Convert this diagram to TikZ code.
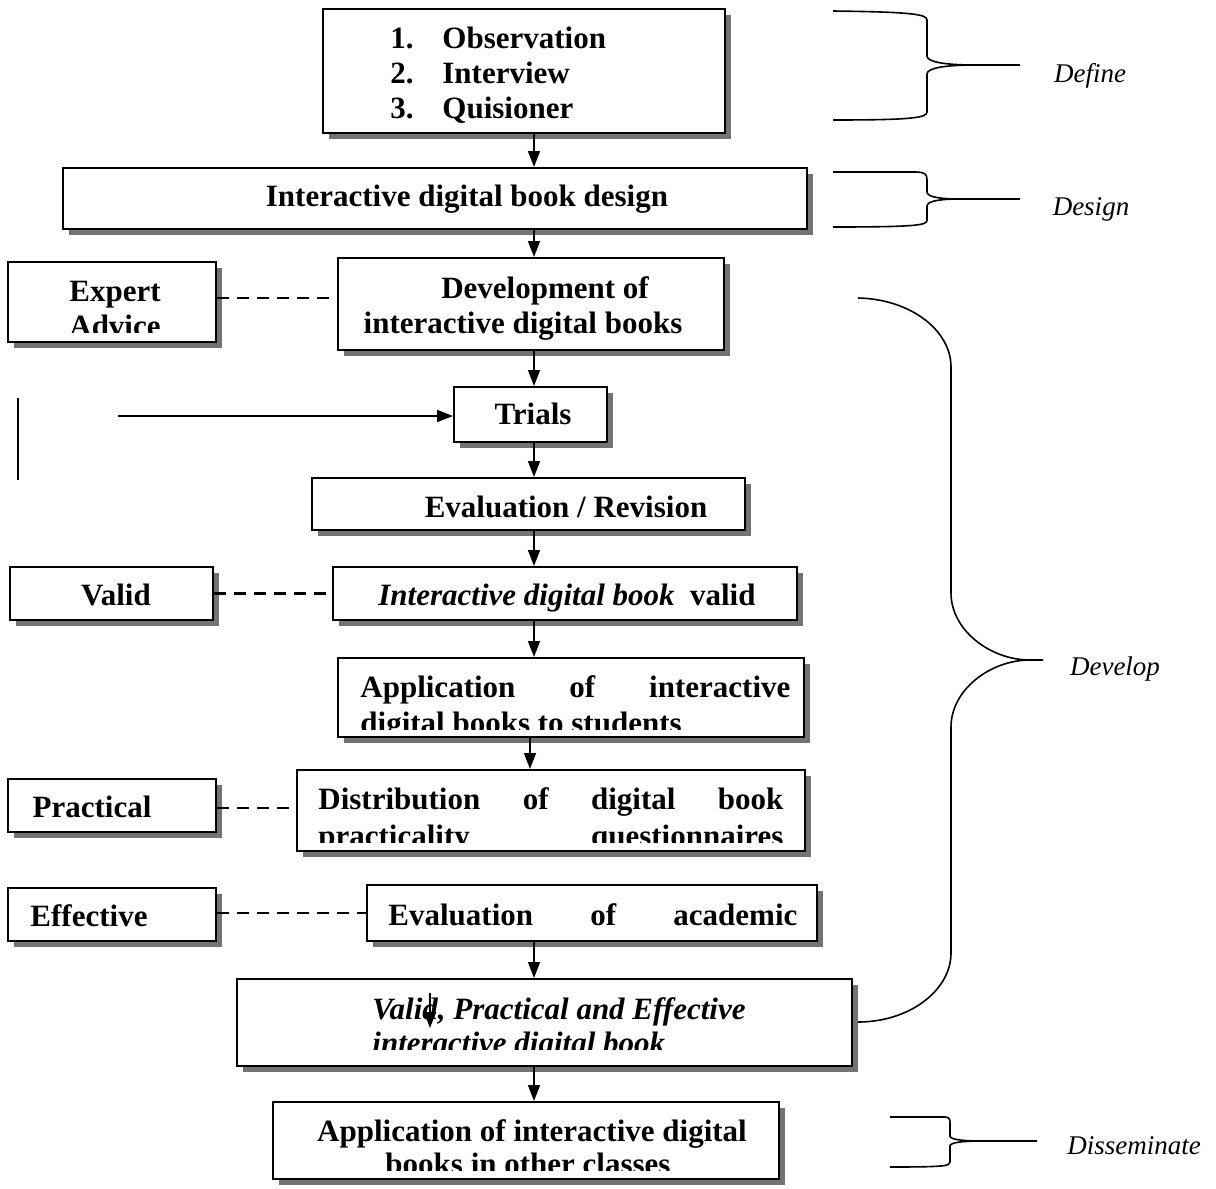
\documentclass[tikz,border=0pt]{standalone}
\usepackage{fontspec}
\setmainfont{Liberation Serif}
\usetikzlibrary{arrows.meta,fit,shadows}

\begin{document}
\begin{tikzpicture}[x=0.5pt,y=-0.5pt,
    box/.style={draw,line width=1pt,fill=white,inner sep=0pt,
        drop shadow={shadow xshift=2.8pt,shadow yshift=-2.8pt,
            fill=black!55,opacity=1}},
    box text/.style={font=\fontsize{15.5}{18.5}\selectfont\bfseries,
        inner sep=0pt},
    phase label/.style={font=\fontsize{13.5}{15}\selectfont\itshape,
        inner sep=0pt},
    flow/.style={line width=0.8pt,-{Triangle[length=8pt,width=6pt]}},
    advice link/.style={line width=1.3pt,dash pattern=on 6pt off 4pt},
    phase brace/.style={line width=0.8pt}
]
    \useasboundingbox (0,0) rectangle (1216,1189);

    % boxes of the main column
    \node[box,fit={(323,9) (725,133)}] (methods) {};
    \node[box,fit={(63,168) (807,229)}] (design) {};
    \node[box,fit={(338,258) (724,350)}] (develop) {};
    \node[box,fit={(454,387) (607,442)}] (trials) {};
    \node[box,fit={(312,478) (745,530)}] (evalrev) {};
    \node[box,fit={(333,567) (797,620)}] (bookvalid) {};
    \node[box,fit={(338,658) (804,737)}] (apply) {};
    \node[box,fit={(297,770) (805,851)}] (distrib) {};
    \node[box,fit={(367,885) (817,941)}] (evalacad) {};
    \node[box,fit={(237,979) (852,1066)}] (final) {};
    \node[box,fit={(273,1102) (779,1179)}] (dissem) {};

    % boxes on the left
    \node[box,fit={(8,262) (216,342)}] (expert) {};
    \node[box,fit={(10,567) (213,620)}] (valid) {};
    \node[box,fit={(8,779) (216,832)}] (practical) {};
    \node[box,fit={(8,888) (216,941)}] (effective) {};

    % texts
    \foreach \i/\word/\y in {1/Observation/48,2/Interview/83,3/Quisioner/118} {
        \node[box text,anchor=base west] (num\i) at (390,\y) {\i.};
        \node[box text,anchor=base west] (item\i) at (442,\y) {\word};
    }
    \node[box text,anchor=base] (design-text) at (467,206)
        {Interactive digital book design};
    \node[box text,anchor=base] (develop-1) at (545,298) {Development of};
    \node[box text,anchor=base] (develop-2) at (523,333)
        {interactive digital books};
    \node[box text,anchor=base] (trials-text) at (533,424) {Trials};
    \node[box text,anchor=base] (evalrev-text) at (566,517)
        {Evaluation / Revision};
    \node[box text,anchor=base] (bookvalid-text) at (567,605)
        {\textit{Interactive digital book}\ \ valid};
    \node[box text,anchor=base west] (evalacad-text) at (388,925)
        {\makebox[204.5pt][s]{Evaluation of academic}};
    \node[box text,anchor=base] (valid-text) at (116,605) {Valid};
    \node[box text,anchor=base] (practical-text) at (92,817) {Practical};
    \node[box text,anchor=base] (effective-text) at (89,926) {Effective};

    % texts cut off at the box bottom
    \begin{scope}
        \clip (8,262) rectangle (216,332);
        \node[box text,anchor=base] (expert-1) at (115,301) {Expert};
        \node[box text,anchor=base] (expert-2) at (115,336) {Advice};
    \end{scope}
    \begin{scope}
        \clip (338,658) rectangle (804,729);
        \node[box text,anchor=base west] (apply-1) at (360,697)
            {\makebox[215pt][s]{Application of interactive}};
        \node[box text,anchor=base west] (apply-2) at (360,733)
            {digital books to students};
    \end{scope}
    \begin{scope}
        \clip (297,770) rectangle (805,842);
        \node[box text,anchor=base west] (distrib-1) at (318,809)
            {\makebox[232.5pt][s]{Distribution of digital book}};
        \node[box text,anchor=base west] (distrib-2) at (318,846)
            {\makebox[232.5pt][s]{practicality questionnaires}};
    \end{scope}
    \begin{scope}
        \clip (237,979) rectangle (852,1049);
        \node[box text,anchor=base west] (final-1) at (372,1019)
            {\textit{Valid, Practical and Effective}};
        \node[box text,anchor=base west] (final-2) at (372,1053)
            {\textit{interactive digital book}};
    \end{scope}
    \begin{scope}
        \clip (273,1102) rectangle (779,1170);
        \node[box text,anchor=base] (dissem-1) at (532,1141)
            {Application of interactive digital};
        \node[box text,anchor=base] (dissem-2) at (528,1174)
            {books in other classes};
    \end{scope}

    % arrows
    \coordinate (col) at (534,0);
    \coordinate (col-b) at (530,0);
    \draw[flow] (methods.south -| col) -- (design.north -| col);
    \draw[flow] (design.south -| col) -- (develop.north -| col);
    \draw[flow] (develop.south -| col) -- (trials.north -| col);
    \draw[flow] (trials.south -| col) -- (evalrev.north -| col);
    \draw[flow] (evalrev.south -| col) -- (bookvalid.north -| col);
    \draw[flow] (bookvalid.south -| col) -- (apply.north -| col);
    \draw[flow] (apply.south -| col-b) -- (distrib.north -| col-b);
    \draw[flow] (evalacad.south -| col) -- (final.north -| col);
    \draw[flow] (final.south -| col) -- (dissem.north -| col);
    \coordinate (stray-top) at (430,993);
    \coordinate (stray-tip) at (430,1028);
    \draw[flow] (stray-top) -- (stray-tip);

    \coordinate (trial-src) at (118,416);
    \draw[flow] (trial-src) -- (trial-src -| trials.west);
    \coordinate (bar-top) at (18,398);
    \coordinate (bar-bot) at (18,480);
    \draw[line width=0.8pt] (bar-top) -- (bar-bot);

    % dashed links
    \draw[advice link] (expert.east |- 0,298) -- (develop.west |- 0,298);
    \draw[advice link] (valid.east) -- (valid.east -| bookvalid.west);
    \draw[advice link] (practical.east |- 0,808) -- (distrib.west |- 0,808);
    \draw[advice link] (effective.east |- 0,913) -- (evalacad.west |- 0,913);

    % phase braces
    \draw[phase brace] (833,11) .. controls (910,12) and (927,14) .. (927,20)
        -- (927,56) .. controls (927,62) and (945,65) .. (975,65) -- (1020,65)
        (975,65) .. controls (945,65) and (927,68) .. (927,74)
        -- (927,112) .. controls (927,118) and (910,120) .. (833,120);
    \node[phase label] (define) at (1090,76) {Define};

    \draw[phase brace] (833,172) -- (915,172) .. controls (925,172) and (927,174) .. (927,180)
        -- (927,192) .. controls (927,197) and (940,199) .. (960,199) -- (1020,199)
        (960,199) .. controls (940,199) and (927,201) .. (927,206)
        -- (927,220) .. controls (927,225) and (920,227) .. (833,227);
    \node[phase label] (design-phase) at (1091,209) {Design};

    \draw[phase brace] (858,298) .. controls (910,299) and (951,330) .. (951,367)
        -- (951,593) .. controls (951,630) and (990,660) .. (1030,660) -- (1043,660)
        (1030,660) .. controls (990,660) and (951,690) .. (951,727)
        -- (951,953) .. controls (951,990) and (910,1022) .. (858,1022);
    \node[phase label] (develop-phase) at (1115,669) {Develop};

    \draw[phase brace] (890,1117) -- (945,1117) .. controls (949,1117) and (950,1119) .. (950,1123)
        -- (950,1136) .. controls (950,1140) and (965,1141) .. (985,1141) -- (1037,1141)
        (985,1141) .. controls (965,1141) and (950,1142) .. (950,1146)
        -- (950,1162) .. controls (950,1166) and (945,1167) .. (890,1167);
    \node[phase label] (dissem-phase) at (1134,1146) {Disseminate};

\end{tikzpicture}
\end{document}
